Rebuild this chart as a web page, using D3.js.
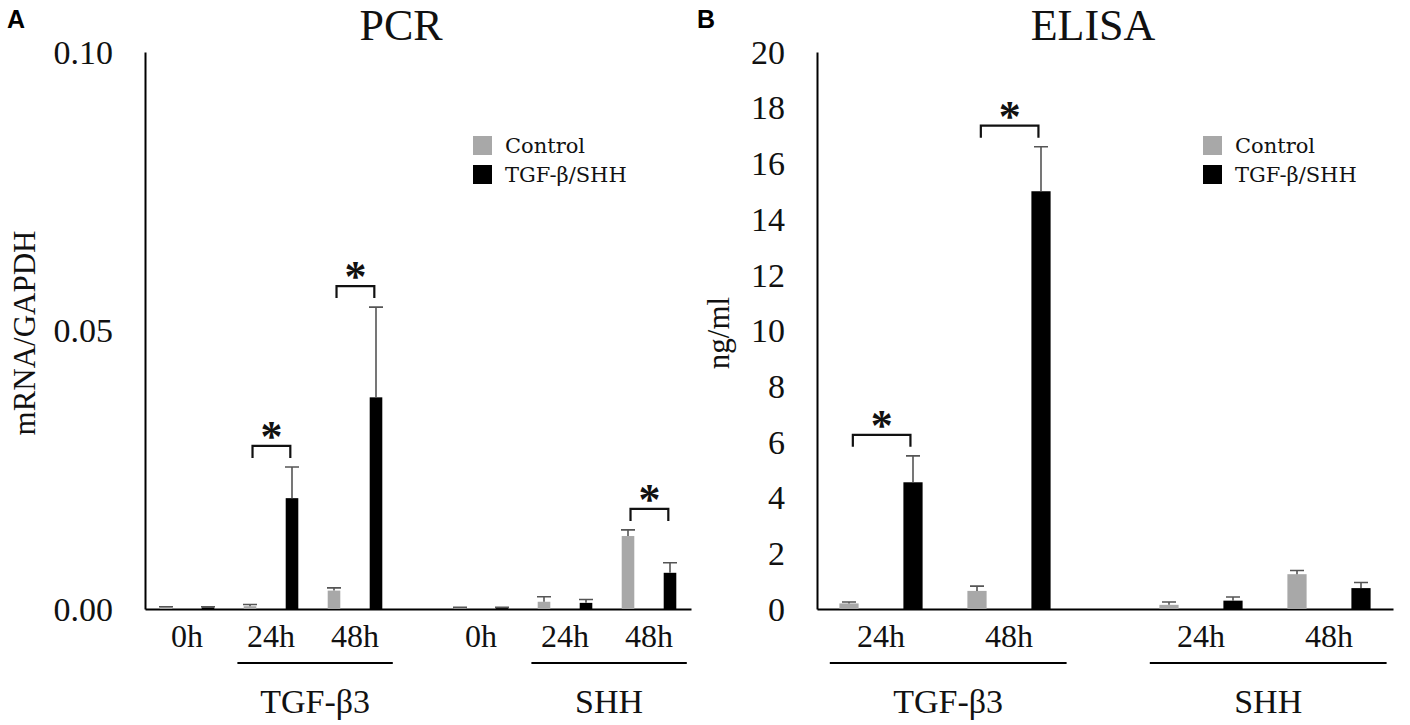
<!DOCTYPE html>
<html>
<head>
<meta charset="utf-8">
<script src="https://cdn.jsdelivr.net/npm/d3@7"></script>
<style>
  html, body { margin: 0; padding: 0; background: #fff; }
  svg { display: block; }
</style>
</head>
<body>
<svg id="chart" width="1410" height="725"></svg>
<script>
const groups = ["TGF-β3", "SHH"];
const seriesNames = ["Control", "TGF-β/SHH"];

// PCR (panel A), order: TGF 0h, 24h, 48h, SHH 0h, 24h, 48h
const pcrTimes = ["0h", "24h", "48h"];
const pcrControl = [0.0003, 0.0005, 0.0033, 0.0002, 0.0013, 0.0131];
const pcrControlErr = [0.0001, 0.0003, 0.0005, 0.0001, 0.0009, 0.0011];
const pcrTreated = [0.0003, 0.0199, 0.0380, 0.0002, 0.0011, 0.0065];
const pcrTreatedErr = [0.0001, 0.0056, 0.0162, 0.0001, 0.0006, 0.0018];
const pcrStars = [1, 2, 5];
const pcrTicks = [0, 0.05, 0.10];

// ELISA (panel B), order: TGF 24h, 48h, SHH 24h, 48h
const elisaTimes = ["24h", "48h"];
const elisaControl = [0.2, 0.65, 0.15, 1.25];
const elisaControlErr = [0.05, 0.17, 0.1, 0.13];
const elisaTreated = [4.55, 15.0, 0.3, 0.75];
const elisaTreatedErr = [0.95, 1.6, 0.13, 0.2];
const elisaStars = [0, 1];
const elisaTicks = [0, 2, 4, 6, 8, 10, 12, 14, 16, 18, 20];

const colors = ["#a8a8a8", "#000000"];
const serif = "'Liberation Serif', 'Times New Roman', serif";
const svg = d3.select("#chart");

function drawPanel(p) {
  const n = p.times.length;
  const g = svg.append("g");
  const x = d3.scaleLinear().domain([0, 2 * n + 0.5]).range([p.left, p.right]);
  const y = d3.scaleLinear().domain([0, p.max]).range([p.bottom, p.top]);
  const unit = x(1) - x(0);
  const barW = unit * 0.15;
  const center = (i) => x(Math.floor(i / n) * (n + 0.5) + (i % n) + 0.5);

  // y axis
  const yAxis = g.append("g")
    .attr("transform", `translate(${p.left},0)`)
    .call(d3.axisLeft(y).tickValues(p.ticks).tickSize(0).tickPadding(32).tickFormat(p.fmt));
  yAxis.select(".domain").attr("stroke", "#000").attr("stroke-width", 2);
  yAxis.selectAll("text").attr("font-family", serif).attr("font-size", 34).attr("fill", "#111").attr("dy", "0.33em");

  // x axis line
  const xAxis = g.append("g")
    .attr("transform", `translate(0,${p.bottom})`)
    .call(d3.axisBottom(x).tickValues([]).tickSizeOuter(0));
  xAxis.select(".domain").attr("stroke", "#000").attr("stroke-width", 2);

  const series = [
    { vals: p.control, errs: p.controlErr, off: -0.25, color: colors[0] },
    { vals: p.treated, errs: p.treatedErr, off: 0.25, color: colors[1] },
  ];

  series.forEach((s) => {
    const bx = (i) => center(i) + s.off * unit;
    g.selectAll(null).data(s.vals).enter().append("rect")
      .attr("x", (d, i) => bx(i) - barW / 2)
      .attr("y", (d) => y(d))
      .attr("width", barW)
      .attr("height", (d) => y(0) - y(d))
      .attr("fill", s.color);
    // error bars (upper only)
    g.selectAll(null).data(s.vals).enter().append("path")
      .attr("d", (d, i) => {
        const cx = bx(i);
        const top = y(d + s.errs[i]);
        return `M${cx},${y(d)}V${top}M${cx - 7},${top}H${cx + 7}`;
      })
      .attr("fill", "none")
      .attr("stroke", "#555")
      .attr("stroke-width", 1.6);
  });

  // significance brackets
  p.stars.forEach((i) => {
    const capTop = Math.min(y(p.control[i] + p.controlErr[i]), y(p.treated[i] + p.treatedErr[i]));
    const x0 = center(i) - 0.22 * unit;
    const x1 = center(i) + 0.23 * unit;
    const legY = capTop - 9;
    const topY = legY - 12;
    g.append("path")
      .attr("d", `M${x0},${legY}V${topY}H${x1}V${legY}`)
      .attr("fill", "none")
      .attr("stroke", "#111")
      .attr("stroke-width", 2.2);
    g.append("text")
      .attr("x", (x0 + x1) / 2)
      .attr("y", topY - 15 + 20)
      .attr("text-anchor", "middle")
      .attr("font-family", serif)
      .attr("font-size", 44)
      .attr("font-weight", "bold")
      .attr("fill", "#111")
      .text("*");
  });

  // time labels
  const nCats = p.control.length;
  g.selectAll(null).data(d3.range(nCats)).enter().append("text")
    .attr("x", (i) => center(i))
    .attr("y", 647)
    .attr("text-anchor", "middle")
    .attr("font-family", serif)
    .attr("font-size", 32)
    .attr("fill", "#111")
    .text((i) => p.times[i % n]);

  // group underlines and labels
  groups.forEach((name, gi) => {
    const first = gi * n + p.firstUnderlined;
    const last = gi * n + n - 1;
    const ux0 = center(first) - 0.4 * unit;
    const ux1 = center(last) + 0.45 * unit;
    g.append("line")
      .attr("x1", ux0).attr("x2", ux1)
      .attr("y1", 663).attr("y2", 663)
      .attr("stroke", "#000").attr("stroke-width", 2);
    g.append("text")
      .attr("x", (ux0 + ux1) / 2)
      .attr("y", 713)
      .attr("text-anchor", "middle")
      .attr("font-family", serif)
      .attr("font-size", 34)
      .attr("fill", "#111")
      .text(name);
  });

  // title
  g.append("text")
    .attr("x", p.titleX).attr("y", 40)
    .attr("text-anchor", "middle")
    .attr("font-family", serif)
    .attr("font-size", 44)
    .attr("fill", "#111")
    .text(p.title);

  // y label
  g.append("text")
    .attr("transform", `translate(${p.yLabelX},333) rotate(-90)`)
    .attr("text-anchor", "middle")
    .attr("font-family", serif)
    .attr("font-size", 31)
    .attr("fill", "#111")
    .text(p.yLabel);

  // panel letter
  g.append("text")
    .attr("x", p.letterX).attr("y", 28)
    .attr("font-family", "'Liberation Sans', Arial, sans-serif")
    .attr("font-weight", "bold")
    .attr("font-size", 25)
    .attr("fill", "#000")
    .text(p.letter);

  // legend
  const lg = g.append("g").attr("transform", `translate(${p.legendX},136)`);
  seriesNames.forEach((name, si) => {
    lg.append("rect")
      .attr("x", 0).attr("y", si * 29)
      .attr("width", 19).attr("height", 19)
      .attr("fill", colors[si]);
    lg.append("text")
      .attr("x", 32).attr("y", si * 29 + 17)
      .attr("font-family", "'DejaVu Serif', serif")
      .attr("font-size", 21)
      .attr("fill", "#111")
      .text(name);
  });
}

drawPanel({
  left: 145, right: 691, top: 52, bottom: 609, max: 0.10,
  times: pcrTimes, control: pcrControl, controlErr: pcrControlErr,
  treated: pcrTreated, treatedErr: pcrTreatedErr, stars: pcrStars,
  ticks: pcrTicks, fmt: d3.format(".2f"), firstUnderlined: 1,
  title: "PCR", titleX: 401, yLabel: "mRNA/GAPDH", yLabelX: 35,
  letter: "A", letterX: 7, legendX: 473,
});

drawPanel({
  left: 817, right: 1393, top: 52, bottom: 609, max: 20,
  times: elisaTimes, control: elisaControl, controlErr: elisaControlErr,
  treated: elisaTreated, treatedErr: elisaTreatedErr, stars: elisaStars,
  ticks: elisaTicks, fmt: (d) => d, firstUnderlined: 0,
  title: "ELISA", titleX: 1093, yLabel: "ng/ml", yLabelX: 729,
  letter: "B", letterX: 697, legendX: 1203,
});
</script>
</body>
</html>
